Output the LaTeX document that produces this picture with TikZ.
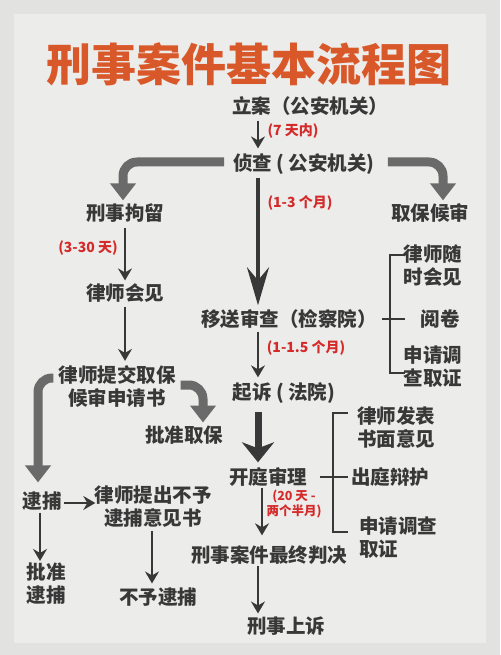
\documentclass[tikz,border=0pt]{standalone}
\usepackage{fontspec}
\newfontfamily\cjk{Noto Sans CJK SC}
\usetikzlibrary{arrows.meta,calc}
\definecolor{bg}{HTML}{E2E2E0}
\definecolor{panel}{HTML}{ECECEA}
\definecolor{ink}{HTML}{383838}
\definecolor{ttl}{HTML}{D9582A}
\definecolor{lred}{HTML}{D42A2A}
\definecolor{garrow}{HTML}{6A6A6A}
\begin{document}
\begin{tikzpicture}[x=1pt,y=-1pt,
  txt/.style={text=ink, font=\cjk\bfseries\fontsize{19.5}{23}\selectfont, inner sep=1pt, align=center},
  lab/.style={text=lred, font=\cjk\bfseries\fontsize{14}{16}\selectfont, inner sep=0pt, align=center},
  thinarrow/.style={draw=ink, line width=1.8pt, -{Stealth[length=12pt,width=14pt,inset=4pt]}},
  grayarrow/.style={draw=garrow, line width=9pt, rounded corners=14pt, -{Triangle[length=17pt,width=25pt]}},
  darkarrow/.style={draw=ink, line width=4pt, -{Stealth[length=38pt,width=22pt,inset=13pt]}},
  bigarrow/.style={draw=ink, line width=7pt, -{Stealth[length=20pt,width=32pt,inset=6pt]}},
  brk/.style={draw=ink, line width=1.5pt}
]
\useasboundingbox (0,0) rectangle (500,655);
\fill[bg] (0,0) rectangle (500,655);
\fill[panel] (14,14) rectangle (486,643);

% title
\node[text=ttl, font=\cjk\bfseries\fontsize{45}{50}\selectfont, inner sep=0pt] (title) at (249,64) {刑事案件基本流程图};

% main column
\node[txt] (la) at (310,106) {立案（公安机关）};
\node[txt] (zc) at (304,164) {侦查 ( 公安机关)};
\node[txt] (ys) at (289,319) {移送审查（检察院）};
\node[txt] (qs) at (284,393) {起诉 ( 法院)};
\node[txt] (kt) at (268,477) {开庭审理};
\node[txt] (zj) at (269,555) {刑事案件最终判决};
\node[txt] (ss) at (286,626) {刑事上诉};

% left branch
\node[txt] (jl) at (125,213) {刑事拘留};
\node[txt] (ls) at (125,293) {律师会见};
\node[txt] (tj) at (117,386) {律师提交取保\\候审申请书};
\node[txt] (pz) at (184,435) {批准取保};
\node[txt] (db) at (42,501) {逮捕};
\node[txt] (ty) at (153,507) {律师提出不予\\逮捕意见书};
\node[txt] (pd) at (46,584) {批准\\逮捕};
\node[txt] (by) at (158,597) {不予逮捕};

% right branch
\node[txt] (qb) at (430,213) {取保候审};
\node[txt] (sj) at (433,266) {律师随\\时会见};
\node[txt] (yj) at (440,319) {阅卷};
\node[txt] (sq) at (433,367) {申请调\\查取证};
\node[txt] (fb) at (396,428) {律师发表\\书面意见};
\node[txt] (cb) at (390,477) {出庭辩护};
\node[txt, align=left, anchor=west] (sd) at (358,538) {申请调查\\取证};

% labels
\node[lab] (l1) at (293,131) {(7 天内)};
\node[lab] (l2) at (300,203) {(1-3 个月)};
\node[lab] (l3) at (88,248) {(3-30 天)};
\node[lab] (l4) at (306,348) {(1-1.5 个月)};
\node[lab, font=\cjk\bfseries\fontsize{12.5}{15}\selectfont] (l5) at (294,504) {(20 天 -\\两个半月)};

% main axis coordinate
\coordinate (mx) at (258,0);
\coordinate (kx) at (262,0);

% arrows main column
\draw[thinarrow] ($(la.south -| mx)+(0,4)$) -- ($(zc.north -| mx)+(0,-4)$);
\draw[darkarrow] ($(zc.south -| mx)+(0,2)$) -- ($(ys.north -| mx)+(0,-3)$);
\draw[thinarrow] ($(ys.south -| mx)+(0,2)$) -- ($(qs.north -| mx)+(0,-4)$);
\draw[bigarrow] ($(qs.south -| mx)+(0,7)$) -- ($(kt.north -| mx)+(0,-4)$);
\draw[thinarrow] ($(kt.south -| kx)+(0,0)$) -- ($(zj.north -| kx)+(0,-9)$);
\draw[thinarrow] ($(zj.south -| mx)+(0,0)$) -- ($(ss.north -| mx)+(0,-2)$);

% gray thick arrows from 侦查
\draw[grayarrow] ($(zc.west)+(-8,-2)$) -| ($(jl.north)+(-2,-2)$);
\draw[grayarrow] ($(zc.east)+(12,-2)$) -| ($(qb.north)+(13,-2)$);

% left column arrows
\draw[thinarrow] ($(jl.south)+(0,4)$) -- ($(ls.north)+(0,-2)$);
\draw[thinarrow] ($(ls.south)+(0,3)$) -- ($(ls.south |- tj.north)+(0,-3)$);
\draw[grayarrow] ($(tj.west)+(-4,-8)$) -| ($(db.north)+(-4,-8)$);
\draw[grayarrow] ($(tj.east)+(4,-1)$) -| ($(pz.north)+(19,-2)$);
\draw[thinarrow] ($(db.east)+(1,2)$) -- ($(db.east -| ty.west)+(2,2)$);
\draw[thinarrow] ($(db.south)+(-2,1)$) -- ($(pd.north)+(-6,-1)$);
\draw[thinarrow] ($(ty.south)+(-1,2)$) -- ($(by.north)+(-6,-3)$);

% bracket for 移送审查
\coordinate (b1t) at (405,255);
\coordinate (b1b) at (405,373);
\coordinate (b1m) at (405,319);
\draw[brk] ($(ys.east)+(4,0)$) -- (b1m);
\draw[brk] (b1t) -- (390,255) -- (390,373) -- (b1b);

% bracket for 开庭审理
\coordinate (b2t) at (348,413);
\coordinate (b2b) at (348,532);
\coordinate (b2m) at (348,477);
\draw[brk] ($(kt.east)+(12,0)$) -- (b2m);
\draw[brk] (b2t) -- (333,413) -- (333,532) -- (b2b);
\end{tikzpicture}
\end{document}
